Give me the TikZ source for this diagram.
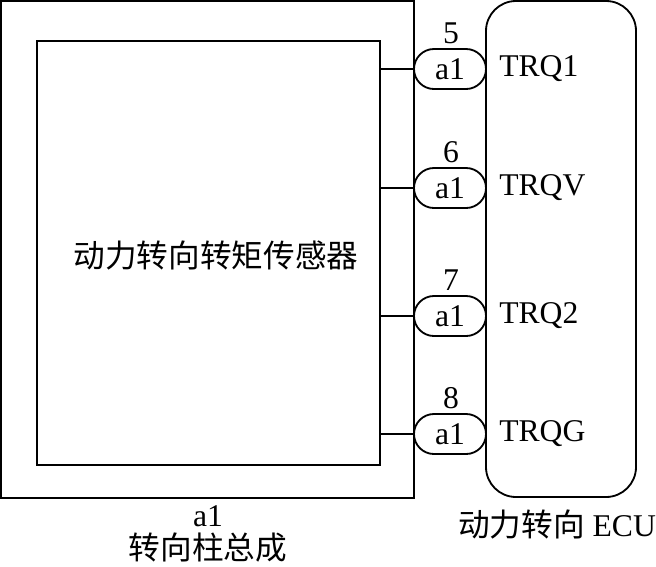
\documentclass[tikz,border=0pt]{standalone}
\usepackage{fontspec}
\setmainfont{Liberation Serif}
\newfontfamily\cjk{Noto Sans CJK SC}
\usetikzlibrary{calc,shapes.misc}

\begin{document}
\begin{tikzpicture}[x=0.025cm,y=-0.025cm,font=\fontsize{22.5}{27}\selectfont]

    \useasboundingbox (0,0) rectangle (656,566);

    % Column assembly
    \draw[line width=1.8pt] (1,1) rectangle (414,498);
    \node[draw,line width=1.2pt,minimum width=8.575cm,minimum height=10.6cm,inner sep=0pt] at (208.5,253) (Sensor) {};
    \node at (216,256) (SensorName) {\cjk 动力转向转矩传感器};
    \node at (208,516) (ColName) {a1};
    \node at (208,548) (ColLabel) {\cjk 转向柱总成};

    % ECU
    \draw[line width=1.3pt,rounded corners=0.75cm] (486,1) rectangle (636,497);
    \node at (557,524) (EcuLabel) {{\cjk 动力转向} ECU};

    % Pins
    \foreach \pin/\y/\sig in {5/69/TRQ1,6/188/TRQV,7/316/TRQ2,8/434/TRQG} {
        \node[draw,line width=1.3pt,rounded rectangle,minimum width=1.8cm,minimum height=1cm,inner sep=0pt] at (450,\y) (P\pin) {a1};
        \node at (451,\y-36) (N\pin) {\pin};
        \node[anchor=west,inner sep=0pt] at (499,\y) (S\pin) {\sig};
        \draw[line width=1.2pt] (Sensor.east |- P\pin) -- (P\pin.west);
    }

\end{tikzpicture}
\end{document}
